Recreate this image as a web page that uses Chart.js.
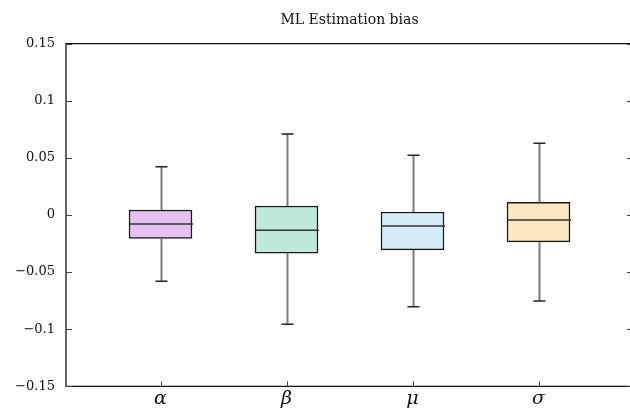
<!DOCTYPE html>
<html>
<head>
<meta charset="utf-8">
<script src="https://cdn.jsdelivr.net/npm/chart.js@4"></script>
<style>
html, body { margin: 0; padding: 0; background: #fff; }
#wrap { width: 630px; height: 409px; overflow: hidden; }
</style>
</head>
<body>
<div id="wrap"><canvas id="myChart" width="640" height="409"></canvas></div>
<script>
// box plot values
var labels = ['α', 'β', 'μ', 'σ'];
var positions = [1, 2, 3, 4];
var whiskerLow = [-0.058, -0.0957, -0.0803, -0.0753];
var q1 = [-0.0204, -0.0335, -0.0306, -0.0236];
var median = [-0.0079, -0.0134, -0.0096, -0.0044];
var q3 = [0.0044, 0.0079, 0.0026, 0.0111];
var whiskerHigh = [0.0423, 0.0709, 0.0523, 0.0628];
var yTicks = [-0.15, -0.1, -0.05, 0, 0.05, 0.1, 0.15];

var fills = ['#e3c1f1', '#c1e8dc', '#d6ecf8', '#f8e7c1'];

var boxData = positions.map(function (p, i) {
    return { x: p, y: [q1[i], q3[i]] };
});

var serif = '"DejaVu Serif", "Liberation Serif", serif';

// whiskers, medians, spines and inward ticks
var boxExtras = {
    id: 'boxExtras',
    afterDatasetsDraw: function (chart) {
        var ctx = chart.ctx;
        var xs = chart.scales.x, ys = chart.scales.y;
        var a = chart.chartArea;
        ctx.save();
        for (var i = 0; i < positions.length; i++) {
            var cx = Math.round(xs.getPixelForValue(positions[i])) + 0.5;
            var half = 31.5;
            // whisker stems
            ctx.strokeStyle = '#7a7a7a';
            ctx.lineWidth = 2;
            ctx.beginPath();
            ctx.moveTo(cx, ys.getPixelForValue(q3[i]));
            ctx.lineTo(cx, ys.getPixelForValue(whiskerHigh[i]));
            ctx.moveTo(cx, ys.getPixelForValue(q1[i]));
            ctx.lineTo(cx, ys.getPixelForValue(whiskerLow[i]));
            ctx.stroke();
            // caps
            ctx.strokeStyle = '#222';
            ctx.lineWidth = 1.5;
            ctx.beginPath();
            ctx.moveTo(cx - 6, ys.getPixelForValue(whiskerHigh[i]));
            ctx.lineTo(cx + 6, ys.getPixelForValue(whiskerHigh[i]));
            ctx.moveTo(cx - 6, ys.getPixelForValue(whiskerLow[i]));
            ctx.lineTo(cx + 6, ys.getPixelForValue(whiskerLow[i]));
            ctx.stroke();
            // median
            ctx.strokeStyle = '#333';
            ctx.lineWidth = 1.5;
            ctx.beginPath();
            ctx.moveTo(cx - half, ys.getPixelForValue(median[i]));
            ctx.lineTo(cx + half, ys.getPixelForValue(median[i]));
            ctx.stroke();
        }
        // spines: left, top, bottom (right one sits past the window edge)
        ctx.strokeStyle = '#111';
        ctx.lineWidth = 1.3;
        ctx.beginPath();
        ctx.moveTo(a.right + 5, a.top);
        ctx.lineTo(a.left, a.top);
        ctx.lineTo(a.left, a.bottom);
        ctx.lineTo(a.right + 5, a.bottom);
        ctx.stroke();
        // inward ticks
        ctx.strokeStyle = '#444';
        ctx.lineWidth = 1;
        ctx.beginPath();
        yTicks.forEach(function (v) {
            var py = Math.round(ys.getPixelForValue(v)) + 0.5;
            ctx.moveTo(a.left, py);
            ctx.lineTo(a.left + 6, py);
            ctx.moveTo(a.right, py);
            ctx.lineTo(a.right - 6, py);
        });
        positions.forEach(function (p) {
            var px = Math.round(xs.getPixelForValue(p)) + 0.5;
            ctx.moveTo(px, a.bottom);
            ctx.lineTo(px, a.bottom - 5);
        });
        ctx.stroke();
        ctx.restore();
    }
};

var ctx = document.getElementById('myChart').getContext('2d');
var myChart = new Chart(ctx, {
    type: 'bar',
    data: {
        datasets: [{
            data: boxData,
            backgroundColor: fills,
            borderColor: '#1a1a1a',
            borderWidth: 1.5,
            borderSkipped: false,
            barThickness: 63
        }]
    },
    options: {
        responsive: false,
        animation: false,
        events: [],
        layout: { padding: { left: 0, right: 7, top: 0, bottom: 0 } },
        plugins: {
            legend: { display: false },
            tooltip: { enabled: false },
            title: {
                display: true,
                fullSize: false,
                text: 'ML Estimation bias',
                color: '#111',
                font: { family: serif, size: 14, weight: 'normal' },
                padding: { top: 12, bottom: 14.9 }
            }
        },
        scales: {
            x: {
                type: 'linear',
                min: 0.25,
                max: 4.75,
                offset: false,
                grid: { display: false, drawTicks: false },
                border: { display: false },
                afterBuildTicks: function (scale) {
                    scale.ticks = positions.map(function (p) { return { value: p }; });
                },
                afterFit: function (scale) { scale.height = 22.7; },
                ticks: {
                    autoSkip: false,
                    maxRotation: 0,
                    padding: 1,
                    color: '#111',
                    font: { family: serif, size: 19, style: 'italic' },
                    callback: function (v) { return labels[positions.indexOf(v)]; }
                }
            },
            y: {
                min: -0.15,
                max: 0.15,
                grid: { display: false, drawTicks: false },
                border: { display: false },
                afterBuildTicks: function (scale) {
                    scale.ticks = yTicks.map(function (v) { return { value: v }; });
                },
                afterFit: function (scale) { scale.width = 66; },
                ticks: {
                    padding: 11,
                    color: '#111',
                    font: { family: serif, size: 13 },
                    callback: function (v) {
                        return String(Math.round(v * 100) / 100).replace('-', '−');
                    }
                }
            }
        }
    },
    plugins: [boxExtras]
});
</script>
</body>
</html>
